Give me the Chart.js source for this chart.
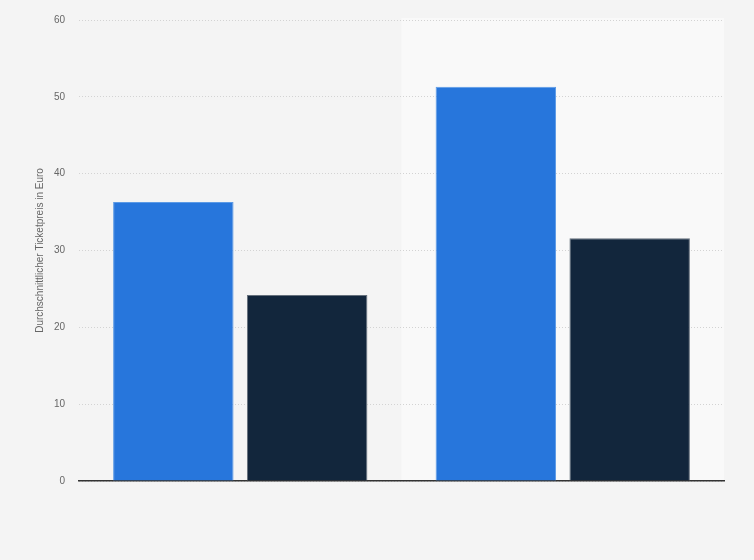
<!DOCTYPE html>
<html>
<head>
<meta charset="utf-8">
<script src="https://cdn.jsdelivr.net/npm/chart.js@4"></script>
<style>
  html, body { margin: 0; padding: 0; background: #f4f4f4; }
  #wrap { width: 754px; height: 560px; }
</style>
</head>
<body>
<div id="wrap"><canvas id="myChart" width="754" height="560"></canvas></div>
<script>
// data
const categories = ['Kategorie 1', 'Kategorie 2'];
const seriesA = [36.3, 51.3];
const seriesB = [24.2, 31.6];
const yTicks = [0, 10, 20, 30, 40, 50, 60];

// lighter band behind the second category
const bandPlugin = {
  id: 'band',
  beforeDraw(chart) {
    const ctx = chart.ctx;
    const x = chart.scales.x;
    const area = chart.chartArea;
    ctx.save();
    ctx.fillStyle = '#f4f4f4';
    ctx.fillRect(0, 0, chart.width, chart.height);
    const half = (x.getPixelForValue(1) - x.getPixelForValue(0)) / 2;
    const left = x.getPixelForValue(1) - half;
    ctx.fillStyle = '#f9f9f9';
    ctx.fillRect(left, area.top - 2, area.right - left, area.bottom - area.top + 2);
    ctx.restore();
  }
};

const ctx = document.getElementById('myChart').getContext('2d');
new Chart(ctx, {
  type: 'bar',
  data: {
    labels: categories,
    datasets: [{
      label: 'Serie A',
      data: seriesA,
      backgroundColor: '#2776dc',
      borderColor: '#5b9ae6',
      borderWidth: 1,
      categoryPercentage: 0.83,
      barPercentage: 0.9
    }, {
      label: 'Serie B',
      data: seriesB,
      backgroundColor: '#12263c',
      borderColor: '#65707c',
      borderWidth: 1,
      categoryPercentage: 0.83,
      barPercentage: 0.9
    }]
  },
  options: {
    responsive: false,
    animation: false,
    layout: { padding: { left: 0, right: 30, top: 20, bottom: 79 } },
    plugins: {
      legend: { display: false },
      tooltip: { enabled: false }
    },
    scales: {
      x: {
        grid: { display: false },
        ticks: { display: false },
        border: { display: true, color: '#333333', width: 1.5 },
        afterFit(scale) { scale.height = 0; }
      },
      y: {
        min: 0,
        max: 60,
        afterBuildTicks(scale) { scale.ticks = yTicks.map(v => ({ value: v })); },
        afterFit(scale) { scale.width = 79; },
        ticks: {
          color: '#666666',
          padding: 14,
          font: { family: 'Liberation Sans, Arial, sans-serif', size: 10 }
        },
        grid: { color: '#d3d3d3', drawTicks: false, lineWidth: 1 },
        border: { display: false, dash: [1, 2] },
        title: {
          display: true,
          text: 'Durchschnittlicher Ticketpreis in Euro',
          color: '#666666',
          padding: { top: 34, bottom: 0 },
          font: { family: 'Liberation Sans, Arial, sans-serif', size: 10 }
        }
      }
    }
  },
  plugins: [bandPlugin]
});
</script>
</body>
</html>
